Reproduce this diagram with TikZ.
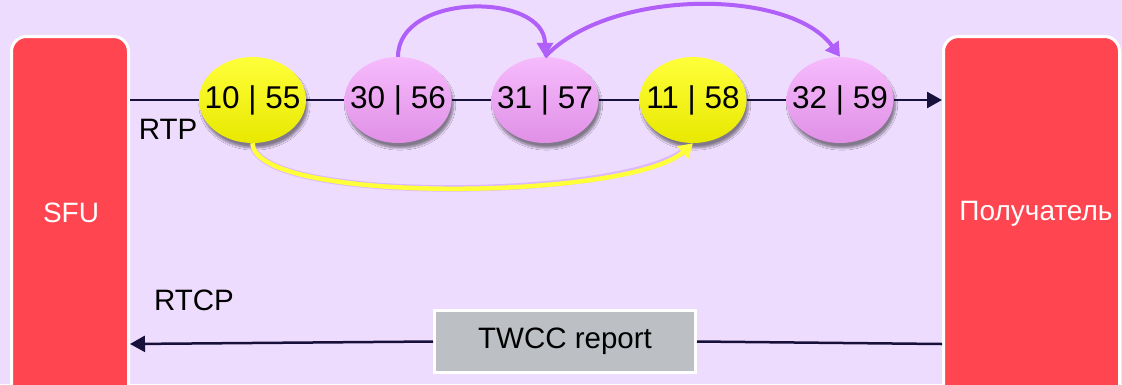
\documentclass[tikz,border=0pt]{standalone}
\usepackage{fontspec}
\setmainfont{Liberation Sans}
\usetikzlibrary{arrows.meta,shapes.geometric,shadows.blur}
\definecolor{bgcol}{HTML}{EEDCFE}
\definecolor{endred}{HTML}{FF4650}
\definecolor{wire}{HTML}{16103A}
\definecolor{arcpurple}{HTML}{B060F8}
\definecolor{glow}{HTML}{C890F8}
\definecolor{pktyel}{HTML}{FFFF3A}
\definecolor{pktyeldark}{HTML}{E8E800}
\definecolor{pktpink}{HTML}{F6BBFC}
\definecolor{pktpinkdark}{HTML}{E090E6}
\definecolor{reportgray}{HTML}{BCC0C4}
% packet label: fixed-width box so the ellipse keeps its size
\newcommand{\pktlabel}[1]{\makebox[70pt]{#1}}
\tikzset{
  endpoint/.style={fill=endred, draw=white, line width=3pt, rounded corners=15pt},
  pkt/.style={ellipse, minimum width=107pt, minimum height=86pt, inner sep=0pt,
    font=\fontsize{31.5}{38}\selectfont,
    blur shadow={shadow xshift=2pt, shadow yshift=-5pt, shadow blur steps=8, shadow opacity=45}},
  pktyellow/.style={pkt, top color=pktyel, bottom color=pktyeldark},
  pktpurple/.style={pkt, top color=pktpink, bottom color=pktpinkdark},
  wireline/.style={draw=wire, line width=2.5pt},
  wiretip/.style={-{Triangle[length=15pt,width=16pt]}},
  hop/.style={draw=arcpurple, line width=4pt, -{Triangle[length=14pt,width=16pt]}},
  lbl/.style={font=\fontsize{29.5}{35}\selectfont},
}
\begin{document}
\begin{tikzpicture}[x=1pt,y=-1pt]
  \useasboundingbox (0,0) rectangle (1122,384);
  \fill[bgcol] (0,0) rectangle (1122,384);
  \begin{scope}
    \clip (0,0) rectangle (1122,384);
    % end points
    \draw[endpoint] (11.5,36.5) rectangle (128.5,410);
    \draw[endpoint] (943.5,36.5) rectangle (1119.5,410);
  \end{scope}
  \node[font=\fontsize{28}{34}\selectfont, text=white] (sfu) at (71,213) {SFU};
  \node[font=\fontsize{28}{34}\selectfont, text=white] (rcv) at (1036,214) {Получатель};
  \coordinate (sfuR) at (130,100);
  \coordinate (rcvL) at (942,100);
  \coordinate (sfuRb) at (130,344);
  \coordinate (rcvLb) at (942,344);

  % packets
  \node[pktyellow] (p1) at (252.5,100) {\pktlabel{10 | 55}};
  \node[pktpurple] (p2) at (398,100) {\pktlabel{30 | 56}};
  \node[pktpurple] (p3) at (545,100) {\pktlabel{31 | 57}};
  \node[pktyellow] (p4) at (693,100) {\pktlabel{11 | 58}};
  \node[pktpurple] (p5) at (840,100) {\pktlabel{32 | 59}};

  % RTP wire between packets
  \draw[wireline] (sfuR) -- (p1.west);
  \draw[wireline] (p1.east) -- (p2.west);
  \draw[wireline] (p2.east) -- (p3.west);
  \draw[wireline] (p3.east) -- (p4.west);
  \draw[wireline] (p4.east) -- (p5.west);
  \draw[wireline, wiretip] (p5.east) -- (rcvL);
  \node[lbl] (rtp) at (168,129) {RTP};

  % reordering hops
  \draw[hop] (p2.north) .. controls (398,-8) and (545,-8) .. (p3.north);
  \draw[hop] (p3.north) .. controls (610,-12) and (790,-12) .. (p5.north);
  \draw[draw=glow, line width=6.5pt, opacity=0.45]
    (p1.south) .. controls (255,205) and (630,200) .. (686,149);
  \draw[draw=pktyel, line width=4.5pt, -{Triangle[length=14pt,width=16pt]}]
    (p1.south) .. controls (255,205) and (630,200) .. (p4.south);

  % RTCP feedback
  \node[lbl] (rtcp) at (194,300) {RTCP};
  \node[fill=reportgray, draw=white, line width=3pt, minimum width=261pt,
        minimum height=62pt, inner sep=0pt, lbl] (twcc) at (565,341.5) {TWCC report};
  \draw[wireline] (rcvLb) -- (twcc.east);
  \draw[wireline, wiretip] (twcc.west) -- (sfuRb);
\end{tikzpicture}
\end{document}
